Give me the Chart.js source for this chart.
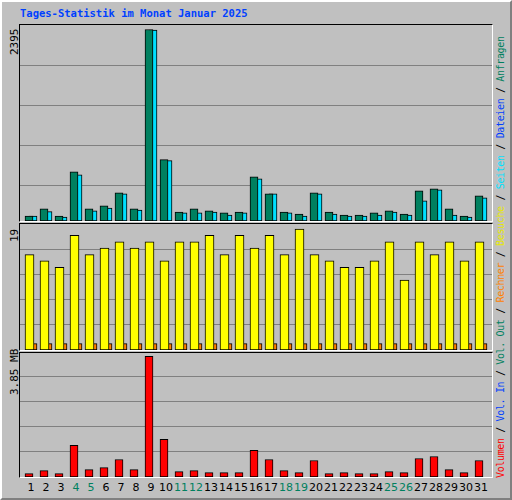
<!DOCTYPE html>
<html><head><meta charset="utf-8">
<script src="https://cdn.jsdelivr.net/npm/chart.js@4"></script>
<style>
body{margin:0;background:#c0c0c0;}
#wrap{position:absolute;left:0;top:0;width:508px;height:496px;border:2px solid;border-color:#fff #808080 #808080 #fff;}
.frame{position:absolute;left:19px;width:472px;border:1px solid;border-color:#000 #fff #fff #000;}
.frame canvas{display:block;}
.t{position:absolute;font-family:"DejaVu Sans Mono",monospace;white-space:nowrap;}
.rot{transform-origin:0 0;transform:rotate(-90deg);}
</style></head><body>
<div id="wrap"></div>
<div class="t" style="left:20px;top:7px;font-size:10.5px;font-weight:bold;color:#0040ff">Tages-Statistik im Monat Januar 2025</div>
<div class="t rot" style="left:8px;top:55px;font-size:11px;">2395</div>
<div class="t rot" style="left:8px;top:242px;font-size:11px;">19</div>
<div class="t rot" style="left:8px;top:395px;font-size:11px;">3.85 MB</div>
<div class="t rot" style="left:495px;top:478px;font-size:10px;letter-spacing:-0.36px"><span style="color:#ff0000">Volumen</span> / <span style="color:#0040ff">Vol. In</span> / <span style="color:#00805f">Vol. Out</span> / <span style="color:#ff8000">Rechner</span> / <span style="color:#e8e800">Besuche</span> / <span style="color:#00e0ff">Seiten</span> / <span style="color:#0040ff">Dateien</span> / <span style="color:#00805f">Anfragen</span></div>
<div class="frame" style="top:24px;height:196px"><canvas id="c1" width="472" height="196"></canvas></div>
<div class="frame" style="top:223px;height:126px"><canvas id="c2" width="472" height="126"></canvas></div>
<div class="frame" style="top:352px;height:124px"><canvas id="c3" width="472" height="124"></canvas></div>
<div id="days" style="position:absolute;left:0;top:481px;width:512px;height:16px"></div>
<script>
const days = Array.from({length:31},(_,i)=>i+1);
const weekend = [4,5,11,12,18,19,25,26];
const hits  = [63,151,63,616,151,189,352,151,2395,767,113,151,126,101,113,553,339,113,88,352,113,75,75,101,126,88,377,402,151,63,314];
const files = [63,117,50,578,126,163,339,138,2388,754,101,101,113,75,101,528,339,101,63,339,88,63,63,75,113,75,251,390,75,50,289];
const visits= [15,14,13,18,15,16,17,16,17,14,17,17,18,15,18,16,18,15,19,15,14,13,13,14,17,11,17,15,17,14,17];
const sites = Array(31).fill(1);
const volume= [0.107,0.204,0.107,1.008,0.236,0.300,0.558,0.236,3.85,1.201,0.172,0.204,0.139,0.139,0.139,0.847,0.558,0.204,0.139,0.525,0.107,0.139,0.107,0.107,0.172,0.139,0.590,0.654,0.236,0.139,0.525];
const gridTop = [440,943,1446,1949], gridMid = [3.96,7.91,11.87,15.82], gridBot = [0.804,1.608,2.412,3.216];

function ds(vals, off, color, w){
  return {data: vals.map((v,i)=>({x:days[i]+off, y:v})), backgroundColor:color,
    borderColor:'#000', borderWidth:1, borderSkipped:false, barThickness:w, grouped:false};
}
function panel(id, sets, max, grid){
  new Chart(document.getElementById(id), {
    type:'bar', data:{datasets:sets},
    options:{responsive:false, animation:false, layout:{padding:0},
      plugins:{legend:{display:false}, tooltip:{enabled:false}},
      scales:{
        x:{type:'linear', offset:false, min:2/3, max:2/3+472/15, display:false},
        y:{min:0, max:max, border:{display:false}, ticks:{display:false},
           grid:{color:'#808080', lineWidth:1, drawTicks:false},
           afterFit:s=>{s.width=0;},
           afterBuildTicks:s=>{s.ticks=grid.map(v=>({value:v}));}}
      }}
  });
}
panel('c1',[ds(hits,4/15,'#00805f',8),ds(files,8/15,'#00e0ff',8)],2451,gridTop);
panel('c2',[ds(visits,0.3,'#ffff00',9),ds(sites,8/15,'#ff8000',8)],19.8,gridMid);
panel('c3',[ds(volume,4/15,'#ff0000',8)],3.955,gridBot);

const dd=document.getElementById('days');
days.forEach(d=>{
  const s=document.createElement('div');
  s.textContent=d;
  s.style.cssText='position:absolute;top:0;width:20px;text-align:center;font:11px "DejaVu Sans",sans-serif;left:'+(20+(d+0.4-2/3)*15-10)+'px;color:'+(weekend.includes(d)?'#00805f':'#000');
  dd.appendChild(s);
});
</script>
</body></html>
